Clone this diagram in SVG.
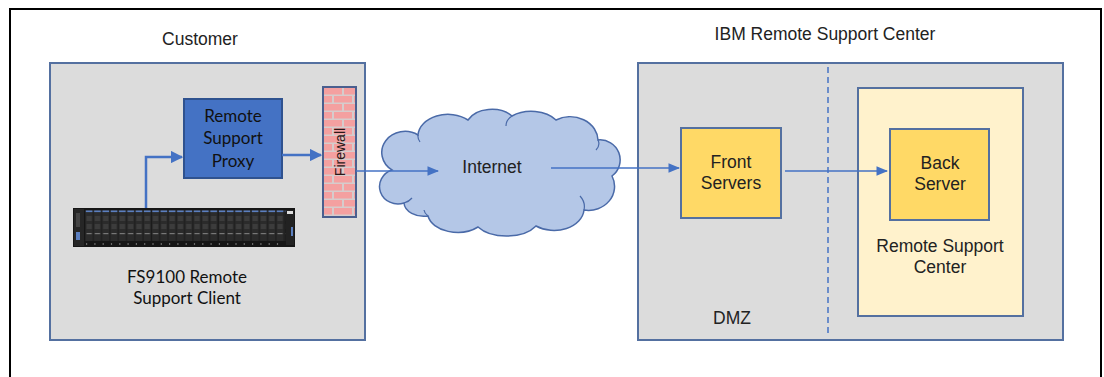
<svg xmlns="http://www.w3.org/2000/svg" width="1104" height="377" viewBox="0 0 1104 377">
  <style>
    .zone { fill: #dcdcdc; stroke: #5470a0; stroke-width: 2; }
    .sans { font-family: "Liberation Sans", Arial, sans-serif; font-size: 17.5px; fill: #222; text-anchor: middle; }
    .cal { font-family: Lato, "Open Sans", sans-serif; font-size: 17px; fill: #111; text-anchor: middle; }
    .server { fill: #ffd966; stroke: #5470a0; stroke-width: 2; }
    .conn { stroke: #4472c4; fill: none; }
  </style>
  <defs>
    <marker id="arrow" viewBox="0 0 10 10" refX="9" refY="5" markerWidth="5" markerHeight="5" orient="auto" markerUnits="strokeWidth">
      <path d="M0,0 L10,5 L0,10 z" fill="#4472c4"/>
    </marker>
    <marker id="arrowThin" viewBox="0 0 10 10" refX="9" refY="5" markerWidth="9" markerHeight="9" orient="auto" markerUnits="strokeWidth">
      <path d="M0,1 L10,5 L0,9 z" fill="#4472c4"/>
    </marker>
    <pattern id="bricks" x="323" y="87" width="20" height="16" patternUnits="userSpaceOnUse">
      <rect width="20" height="16" fill="#d6cccc"/>
      <rect x="1" y="1" width="18" height="6.5" fill="#f4a0a0"/>
      <rect x="-9" y="9" width="18" height="6.5" fill="#f4a0a0"/>
      <rect x="11" y="9" width="18" height="6.5" fill="#f4a0a0"/>
    </pattern>
    <pattern id="bays" x="85" y="210" width="8.3" height="31" patternUnits="userSpaceOnUse">
      <rect x="0.4" y="0" width="7.5" height="31" fill="#2b2b2b"/>
      <rect x="0.8" y="0.5" width="6.7" height="1.6" fill="#5b7fc0"/>
      <rect x="1.5" y="6" width="5.3" height="5" fill="#3c3c3c"/>
      <rect x="1.5" y="14" width="5.3" height="5" fill="#3c3c3c"/>
      <rect x="1.5" y="23" width="5.3" height="1.2" fill="#777"/>
    </pattern>
  </defs>

  <rect width="1104" height="377" fill="#fff"/>
  <!-- page frame (open at the bottom) -->
  <path d="M10,377 V9 H1101 V377" fill="none" stroke="#000" stroke-width="2"/>

  <!-- customer site -->
  <g id="customer">
    <rect class="zone" x="50" y="63" width="315" height="277"/>
    <text class="sans" x="200" y="45">Customer</text>
  </g>

  <!-- IBM site -->
  <g id="ibm-center">
    <rect class="zone" x="638" y="63" width="425" height="277"/>
    <text class="sans" x="825" y="40">IBM Remote Support Center</text>
    <line x1="828" y1="67" x2="828" y2="337" stroke="#4472c4" stroke-width="1.5" stroke-dasharray="6,4"/>
    <text class="sans" x="732" y="324">DMZ</text>
  </g>

  <g id="proxy">
    <rect x="184" y="99" width="98" height="79" fill="#4472c4" stroke="#2f528f" stroke-width="2"/>
    <text class="cal" x="233" y="122">Remote</text>
    <text class="cal" x="233" y="144">Support</text>
    <text class="cal" x="233" y="167">Proxy</text>
  </g>

  <g id="firewall">
    <rect x="323" y="87" width="33" height="130" fill="url(#bricks)" stroke="#4a5f8f" stroke-width="2"/>
    <text x="340" y="152" transform="rotate(-90 340 152)" font-family="Liberation Sans, Arial, sans-serif" font-size="14px" fill="#2a1818" text-anchor="middle" dominant-baseline="central">Firewall</text>
  </g>

  <g id="fs9100">
    <rect x="73" y="208" width="222" height="39" fill="#161616"/>
    <rect x="74" y="209" width="10" height="37" fill="#262626"/>
    <rect x="76" y="213" width="4" height="14" fill="#444"/>
    <rect x="76" y="232" width="4" height="8" fill="#5b7fc0"/>
    <rect x="85" y="210" width="66.4" height="31" fill="url(#bays)"/>
    <rect x="152" y="210" width="66.4" height="31" fill="url(#bays)"/>
    <rect x="219" y="210" width="66.4" height="31" fill="url(#bays)"/>
    <rect x="286" y="210" width="8" height="35" fill="#222"/>
    <rect x="287" y="211" width="6" height="3" fill="#ddd"/>
    <rect x="291" y="227" width="2" height="9" fill="#5b7fc0"/>
    <line x1="86" y1="244" x2="284" y2="244" stroke="#bbb" stroke-width="1.2" stroke-dasharray="1.2,7.1"/>
    <text class="cal" x="187" y="283">FS9100 Remote</text>
    <text class="cal" x="187" y="304">Support Client</text>
  </g>

  <g id="internet">
    <path d="M404,203 A18,17 0 0 1 392,170 A22,20 0 0 1 418,135 A30,22 0 0 1 468,120 A26,18 0 0 1 512,116 A30,20 0 0 1 556,120 A28,24 0 0 1 598,140 A20,20 0 0 1 612,176 A26,24 0 0 1 584,210 A30,22 0 0 1 536,226 A34,20 0 0 1 478,227 A30,20 0 0 1 428,216 A20,14 0 0 1 404,203 Z" fill="#b4c7e7" stroke="#4a6aa8" stroke-width="1.5"/>
    <path d="M404,203 A16,12 0 0 0 412,198 M428,216 A14,10 0 0 1 424,210 M584,210 A22,18 0 0 0 580,196 M598,140 A12,10 0 0 1 596,150 M418,135 A16,12 0 0 0 420,142 M512,116 A14,12 0 0 0 506,126" fill="none" stroke="#4a6aa8" stroke-width="1.2"/>
    <text class="sans" x="492" y="173">Internet</text>
  </g>

  <g id="front-servers">
    <rect class="server" x="681" y="128" width="100" height="90"/>
    <text class="sans" x="731" y="168">Front</text>
    <text class="sans" x="731" y="189">Servers</text>
  </g>

  <g id="rsc">
    <rect x="858" y="88" width="165" height="228" fill="#fff2cc" stroke="#5470a0" stroke-width="2"/>
    <text class="sans" x="940" y="252">Remote Support</text>
    <text class="sans" x="940" y="273">Center</text>
  </g>

  <g id="back-server">
    <rect class="server" x="890" y="129" width="99" height="91"/>
    <text class="sans" x="940" y="169">Back</text>
    <text class="sans" x="940" y="190">Server</text>
  </g>

  <g id="connectors">
    <path class="conn" d="M146,208 V157 H182" stroke-width="2.5" marker-end="url(#arrow)"/>
    <path class="conn" d="M282,155 H321" stroke-width="2.5" marker-end="url(#arrow)"/>
    <path class="conn" d="M356,171 H438" stroke-width="1.3" marker-end="url(#arrowThin)"/>
    <path class="conn" d="M551,168 H679" stroke-width="1.3" marker-end="url(#arrowThin)"/>
    <path class="conn" d="M785,171 H887" stroke-width="1.3" marker-end="url(#arrowThin)"/>
  </g>
</svg>
